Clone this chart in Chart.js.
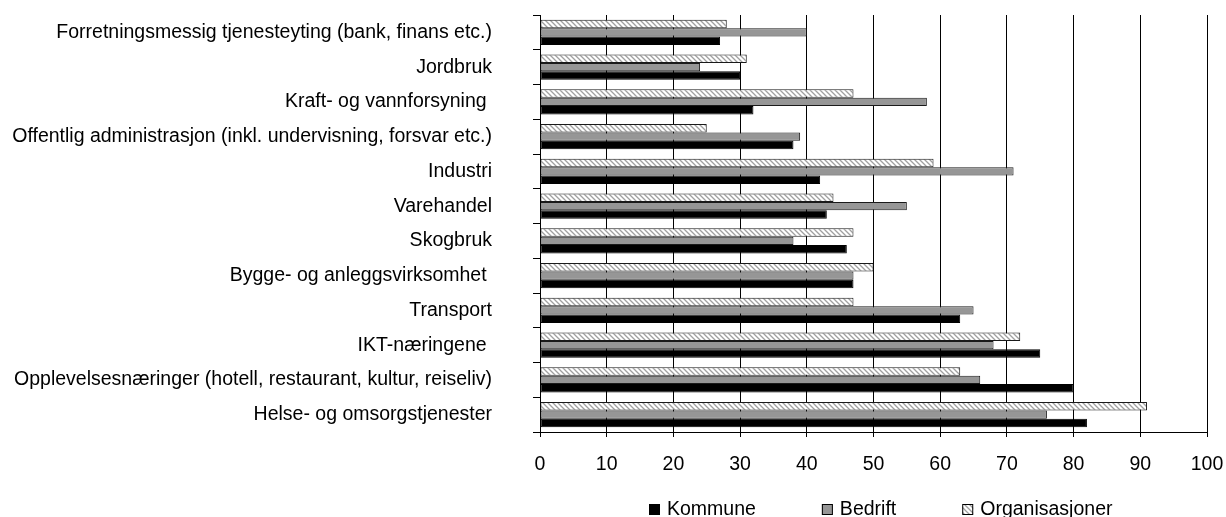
<!DOCTYPE html>
<html><head><meta charset="utf-8">
<style>html,body{margin:0;padding:0;background:#fff}#wrap{width:1226px;height:517px;position:relative}</style>
<script src="https://cdn.jsdelivr.net/npm/chart.js@4/dist/chart.umd.min.js"></script>
</head><body><div id="wrap"><canvas id="c" width="1226" height="517"></canvas></div>
<script>
const categories = [
  'Forretningsmessig tjenesteyting (bank, finans etc.)',
  'Jordbruk',
  'Kraft- og vannforsyning ',
  'Offentlig administrasjon (inkl. undervisning, forsvar etc.)',
  'Industri',
  'Varehandel',
  'Skogbruk',
  'Bygge- og anleggsvirksomhet ',
  'Transport',
  'IKT-næringene ',
  'Opplevelsesnæringer (hotell, restaurant, kultur, reiseliv)',
  'Helse- og omsorgstjenester'
];
const kommune        = [27, 30, 32, 38, 42, 43, 46, 47, 63, 75, 80, 82];
const bedrift        = [40, 24, 58, 39, 71, 55, 38, 47, 65, 68, 66, 76];
const organisasjoner = [28, 31, 47, 25, 59, 44, 47, 50, 47, 72, 63, 91];
const xTicks = [0, 10, 20, 30, 40, 50, 60, 70, 80, 90, 100];
const seriesNames = ['Kommune', 'Bedrift', 'Organisasjoner'];

const FONT = '"Liberation Sans", Arial, sans-serif';
const FSIZE = 19.5;
const canvas = document.getElementById('c');
const ctx = canvas.getContext('2d');

function makeHatch() {
  const s = 5;
  const t = document.createElement('canvas');
  t.width = s; t.height = s;
  const g = t.getContext('2d');
  g.fillStyle = '#ffffff';
  g.fillRect(0, 0, s, s);
  g.strokeStyle = '#a0a0a0';
  g.lineWidth = 1.3;
  g.beginPath();
  g.moveTo(-1, -1); g.lineTo(s + 1, s + 1);
  g.moveTo(-1, s - 1); g.lineTo(1, s + 1);
  g.moveTo(s - 1, -1); g.lineTo(s + 1, 1);
  g.stroke();
  return ctx.createPattern(t, 'repeat');
}
const hatch = makeHatch();

const bottomLegend = {
  id: 'bottomLegend',
  afterDraw(chart) {
    const c = chart.ctx, ca = chart.chartArea;
    c.save();
    c.font = FSIZE + 'px ' + FONT;
    const items = chart.data.datasets.slice().reverse();
    const box = 11, gapText = 7, gapItem = 66;
    const widths = items.map(d => box + gapText + c.measureText(d.label).width);
    const total = widths.reduce((a, b) => a + b, 0) + gapItem * (items.length - 1);
    let x = Math.round((ca.left + ca.right) / 2 + 7 - total / 2);
    const boxTop = 504, baseline = 515;
    items.forEach((d, i) => {
      c.fillStyle = d.backgroundColor;
      c.fillRect(x, boxTop, box, box);
      c.strokeStyle = '#000';
      c.lineWidth = 1;
      c.strokeRect(x + 0.5, boxTop + 0.5, box - 1, box - 1);
      c.fillStyle = '#000';
      c.textBaseline = 'alphabetic';
      c.textAlign = 'left';
      c.fillText(d.label, x + box + gapText, baseline);
      x += widths[i] + gapItem;
    });
    c.restore();
  }
};

new Chart(ctx, {
  type: 'bar',
  data: {
    labels: categories,
    datasets: [
      { label: seriesNames[2], data: organisasjoner, backgroundColor: hatch, borderColor: '#1a1a1a', borderWidth: 1, borderSkipped: false },
      { label: seriesNames[1], data: bedrift, backgroundColor: '#969696', borderColor: '#1a1a1a', borderWidth: 1, borderSkipped: false },
      { label: seriesNames[0], data: kommune, backgroundColor: '#000000', borderColor: '#000000', borderWidth: 1, borderSkipped: false }
    ]
  },
  options: {
    indexAxis: 'y',
    responsive: false,
    animation: false,
    devicePixelRatio: 1,
    layout: { padding: { top: 15, right: 19, bottom: 44, left: 0 } },
    datasets: { bar: { categoryPercentage: 0.72, barPercentage: 1.0 } },
    plugins: { legend: { display: false }, tooltip: { enabled: false } },
    scales: {
      x: {
        min: 0, max: 100,
        afterBuildTicks: s => { s.ticks = xTicks.map(v => ({ value: v })); },
        afterFit: s => { s.height = 41; s.paddingLeft = 0; s.paddingRight = 0; },
        ticks: { color: '#000', font: { family: FONT, size: FSIZE }, padding: 16, maxRotation: 0, autoSkip: false },
        grid: { color: '#000', lineWidth: 1, tickLength: 5, drawTicks: true },
        border: { color: '#000', width: 1 }
      },
      y: {
        afterFit: s => { s.width = 540; s.paddingTop = 0; s.paddingBottom = 0; },
        ticks: { color: '#000', font: { family: FONT, size: FSIZE }, padding: 41, autoSkip: false },
        grid: { drawOnChartArea: false, drawTicks: true, tickLength: 7, color: '#000' },
        border: { color: '#000', width: 1 }
      }
    }
  },
  plugins: [bottomLegend]
});
</script></body></html>
